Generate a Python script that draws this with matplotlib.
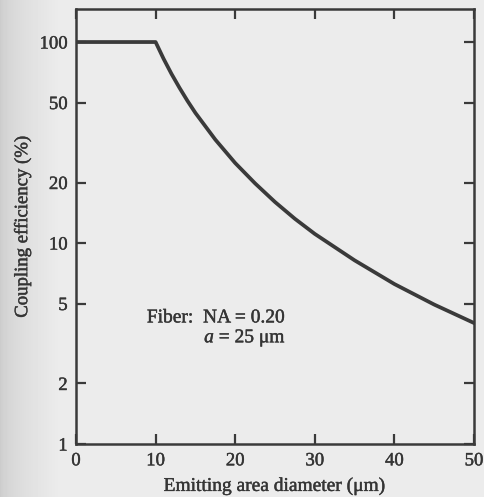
import numpy as np
import matplotlib
matplotlib.use("Agg")
import matplotlib.pyplot as plt
import matplotlib.patheffects as pe

# Emitting area diameter (um) and coupling efficiency (%) along the curve
diameter = [0, 5, 10, 11, 12, 13, 14, 15, 17.5, 20, 22.5, 25, 27.5, 30, 35, 40, 45, 50]
efficiency = [100, 100, 100, 82.6, 69.4, 59.2, 51.0, 44.4, 32.7, 25.0, 19.8, 16.0,
              13.2, 11.1, 8.2, 6.25, 4.94, 4.0]

y_ticks = [1, 2, 5, 10, 20, 50, 100]
y_ticklabels = ["1", "2", "5", "10", "20", "50", "100"]
x_ticks = [0, 10, 20, 30, 40, 50]

ink = "#3a3a3a"
txt = "#353535"
plt.rcParams["font.family"] = ["Liberation Serif", "DejaVu Serif"]
plt.rcParams["mathtext.fontset"] = "custom"
plt.rcParams["mathtext.it"] = "Liberation Serif:italic"
plt.rcParams["mathtext.rm"] = "Liberation Serif"

# slightly heavier strokes for the printed lettering
heavy = [pe.withStroke(linewidth=0.3, foreground=txt)]

fig = plt.figure(figsize=(4.85, 4.97), dpi=100)
fig.patch.set_facecolor("#ebebe9")

# paper shading, darker toward the binding on the left
bg = fig.add_axes([0, 0, 1, 1], zorder=-10)
grad = np.linspace(0, 1, 485)
shade = 0.80 + 0.122 * np.clip(grad / 0.12, 0, 1) ** 0.6
img = np.tile(shade, (497, 1))
bg.imshow(img, cmap="gray", vmin=0, vmax=1, aspect="auto", extent=[0, 1, 0, 1])
bg.axis("off")

ax = fig.add_axes([76 / 485, 1 - 444 / 497, (474 - 76) / 485, (444 - 9) / 497])
ax.patch.set_alpha(0)
ax.plot(diameter, efficiency, color=ink, lw=2.7, solid_joinstyle="round")
ax.set_yscale("log")
ax.set_xlim(0, 50)
ax.set_ylim(1, 146)
ax.set_yticks(y_ticks)
ax.set_yticklabels(y_ticklabels)
ax.yaxis.set_minor_locator(matplotlib.ticker.NullLocator())
ax.set_xticks(x_ticks)

for s in ax.spines.values():
    s.set_color(ink)
    s.set_linewidth(1.8)
ax.tick_params(direction="in", length=7, width=1.6, color=ink, labelcolor=txt,
               labelsize=13.5, top=True, right=True, pad=6)
for lab in ax.get_xticklabels() + ax.get_yticklabels():
    lab.set_path_effects(heavy)

ax.set_xlabel("Emitting area diameter (μm)", fontsize=14, color=txt, labelpad=6,
              path_effects=heavy)
ax.set_ylabel("Coupling efficiency (%)", fontsize=13.5, color=txt, labelpad=6,
              path_effects=heavy)

ax.text(8.9, 4.24, "Fiber:  NA = 0.20", fontsize=14, color=txt, va="center", ha="left",
        path_effects=heavy)
ax.text(16.1, 3.37, r"$a$ = 25 μm", fontsize=14, color=txt, va="center", ha="left",
        path_effects=heavy)

fig.savefig("out.png", dpi=100, facecolor=fig.get_facecolor())
